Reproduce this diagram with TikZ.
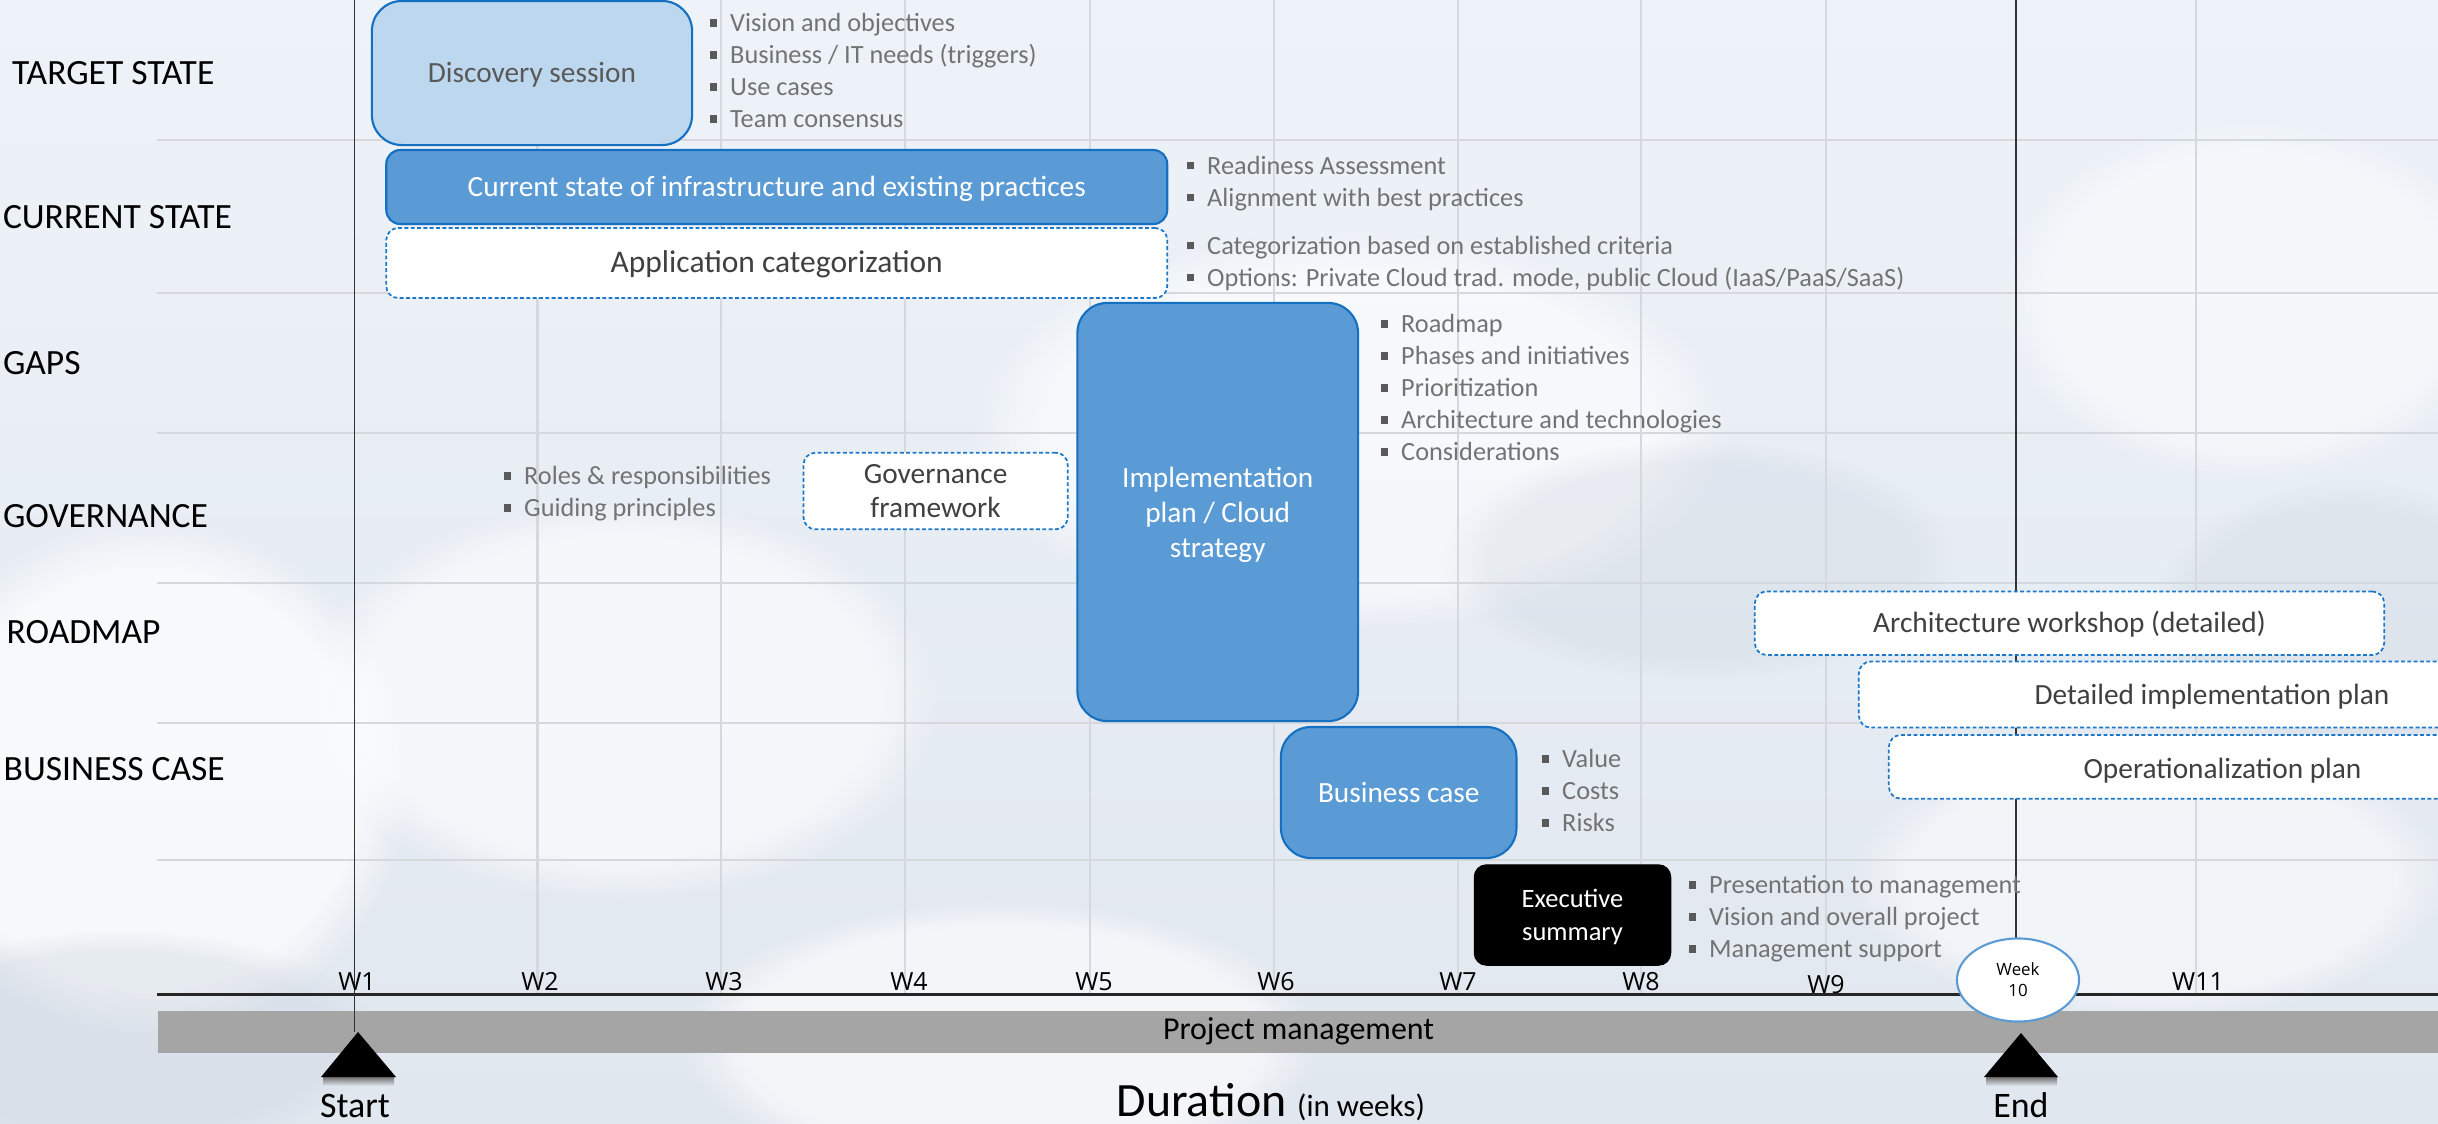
\documentclass[tikz,border=0pt]{standalone}
\usepackage{fontspec}
\setmainfont{Carlito}
\newfontfamily\osans{Open Sans}
\usetikzlibrary{fadings,shapes.geometric}
\definecolor{bgtop}{HTML}{EEF3F9}
\definecolor{bgbot}{HTML}{E1E7EF}
\definecolor{gridc}{HTML}{D5D8DD}
\definecolor{lightblue}{HTML}{BDD7EE}
\definecolor{midblue}{HTML}{5B9BD5}
\definecolor{edgeblue}{HTML}{1470C0}
\definecolor{dashblue}{HTML}{1C78C8}
\definecolor{txtdark}{HTML}{404040}
\definecolor{txtgray}{HTML}{595959}
\definecolor{bultxt}{HTML}{737373}
\definecolor{bulsq}{HTML}{595959}
\definecolor{barg}{HTML}{A5A5A5}
\definecolor{cloudgray}{HTML}{CBD3DE}
\newcommand\myfs[2]{\fontsize{#1}{#2}\selectfont}
\newcommand\bul{\makebox[0.78em][l]{\textcolor{bulsq}{\rule[0.18em]{0.29em}{0.29em}}}}
\begin{document}
\begin{tikzpicture}[x=0.01cm,y=-0.01cm,
  boxbase/.style={inner sep=0pt, align=center, font=\myfs{8.34}{10}},
  single/.style={text height=5.4pt, text depth=0pt},
  multi/.style={text depth=0pt},
  bluebox/.style={boxbase, draw=edgeblue, line width=0.6pt, fill=midblue, text=white},
  dashbox/.style={boxbase, draw=dashblue, line width=0.5pt, dash pattern=on 1.1pt off 0.7pt, fill=white, text=txtdark, rounded corners=0.12cm},
  bullets/.style={anchor=base west, inner sep=0pt, align=left, text=bultxt, font=\myfs{7.48}{9.1}},
  rowlabel/.style={anchor=base west, inner sep=0pt, font=\myfs{10.1}{12}},
  wlabel/.style={anchor=base, inner sep=0pt, font=\osans\myfs{7.1}{8}},
  gridline/.style={draw=gridc, line width=0.8pt},
  cloud/.style={path fading=circle with fuzzy edge 20 percent}
]
\useasboundingbox (0,0) rectangle (2438,1123);
\clip (0,0) rectangle (2438,1123);
% background sky
\shade[top color=bgtop, bottom color=bgbot] (0,0) rectangle (2438,1123);
\fill[white, opacity=0.7, cloud] (150,780) ellipse (260 and 260);
\fill[white, opacity=0.6, cloud] (620,700) ellipse (320 and 200);
\fill[white, opacity=0.6, cloud] (1350,430) ellipse (380 and 200);
\fill[white, opacity=0.6, cloud] (1000,1040) ellipse (320 and 140);
\fill[white, opacity=0.5, cloud] (2250,300) ellipse (250 and 180);
\fill[white, opacity=0.5, cloud] (2150,880) ellipse (300 and 140);
\fill[cloudgray, opacity=0.35, cloud] (120,1040) ellipse (260 and 110);
\fill[cloudgray, opacity=0.3, cloud] (1700,560) ellipse (260 and 120);
\fill[cloudgray, opacity=0.3, cloud] (2350,620) ellipse (200 and 140);
% grid
\foreach \gx in {537.5,721,905,1090,1274,1458,1641,1826,2196}
  \draw[gridline] (\gx,0) -- (\gx,994);
\foreach \gy in {140,293,433,583,723,860}
  \draw[gridline] (157,\gy) -- (2438,\gy);
% axis and bar
\draw[line width=0.6pt, black!85] (157,994.5) -- (2438,994.5);
\node[fill=barg, inner sep=0pt, minimum width=22.79cm, minimum height=0.42cm, font=\myfs{9.08}{11}] (pm) at (1298.5,1031.7) {Project management};
\draw[line width=0.45pt, black!80] (354.5,0) -- (354.5,1032);
\draw[line width=0.45pt, black!80] (2016,0) -- (2016,941);
% row labels
\node[rowlabel] (lbltarget) at (11.5,84) {TARGET STATE};
\node[rowlabel] (lblcurrent) at (2.3,228) {CURRENT STATE};
\node[rowlabel] (lblgaps) at (2.3,374) {GAPS};
\node[rowlabel] (lblgov) at (2.3,527) {GOVERNANCE};
\node[rowlabel] (lblroad) at (6,643) {ROADMAP};
\node[rowlabel] (lblbc) at (3,780) {BUSINESS CASE};
% boxes
\node[boxbase, single, draw=edgeblue, line width=0.6pt, fill=lightblue, text=txtgray, rounded corners=0.3cm, minimum width=3.2cm, minimum height=1.44cm] (disc) at (532,73) {Discovery session};
\node[bluebox, single, rounded corners=0.14cm, minimum width=7.805cm, minimum height=0.74cm] (cur) at (776.75,187) {Current state of infrastructure and existing practices};
\node[dashbox, single, font=\myfs{8.96}{11}, minimum width=7.805cm, minimum height=0.7cm] (app) at (776.75,263) {Application categorization};
\node[bluebox, multi, rounded corners=0.3cm, minimum width=2.805cm, minimum height=4.18cm, font=\myfs{8.34}{10}] (impl) at (1217.75,512) {Implementation\\plan / Cloud\\strategy};
\node[dashbox, font=\myfs{8.34}{9.5}, minimum width=2.64cm, minimum height=0.766cm] (gov) at (935.6,491) {Governance\\framework};
\node[bluebox, single, rounded corners=0.3cm, minimum width=2.354cm, minimum height=1.31cm] (bc) at (1398.7,792.5) {Business case};
\node[boxbase, multi, draw=black, fill=black, text=white, rounded corners=0.12cm, minimum width=1.96cm, minimum height=1.0cm, font=\myfs{7.54}{9.4}] (exec) at (1572.5,915) {Executive\\summary};
\node[dashbox, single, minimum width=6.29cm, minimum height=0.636cm] (arch) at (2069.5,623.2) {Architecture workshop (detailed)};
\node[dashbox, minimum width=6.21cm, minimum height=0.66cm] (det) at (2169.5,694.5) {};
\node[boxbase, single, text=txtdark] (dettext) at (2212,694.5) {Detailed implementation plan};
\node[dashbox, minimum width=5.91cm, minimum height=0.636cm] (ops) at (2184.5,766.8) {};
\node[boxbase, single, text=txtdark] (opstext) at (2222.5,769) {Operationalization plan};
% bullet lists (anchored at the baseline of their last line)
\node[bullets] (tgtlist) at (709,127.5) {\bul Vision and objectives\\\bul Business / IT needs (triggers)\\\bul Use cases\\\bul Team consensus};
\node[bullets] (curlist) at (1186,206) {\bul Readiness Assessment\\\bul Alignment with best practices};
\node[bullets] (applist) at (1186,286) {\bul Categorization based on established criteria\\\bul Options: Private Cloud trad. mode, public Cloud (IaaS/PaaS/SaaS)};
\node[bullets] (gapslist) at (1380,460.5) {\bul Roadmap\\\bul Phases and initiatives\\\bul Prioritization\\\bul Architecture and technologies\\\bul Considerations};
\node[bullets] (govlist) at (503,516.5) {\bul Roles \& responsibilities\\\bul Guiding principles};
\node[bullets] (bclist) at (1541,831.5) {\bul Value\\\bul Costs\\\bul Risks};
\node[bullets] (execlist) at (1688,957.5) {\bul Presentation to management\\\bul Vision and overall project\\\bul Management support};
% week labels
\node[wlabel] (w1) at (357,990) {W1};
\node[wlabel] (w2) at (540,990) {W2};
\node[wlabel] (w3) at (724,990) {W3};
\node[wlabel] (w4) at (909,990) {W4};
\node[wlabel] (w5) at (1094,990) {W5};
\node[wlabel] (w6) at (1276,990) {W6};
\node[wlabel] (w7) at (1458,990) {W7};
\node[wlabel] (w8) at (1641,990) {W8};
\node[wlabel] (w9) at (1826,993) {W9};
\node[wlabel] (w11) at (2198,990) {W11};
\node[ellipse, draw=midblue, fill=white, line width=0.6pt, inner sep=0pt, minimum width=1.22cm, minimum height=0.83cm, align=center, font=\osans\myfs{4.8}{6}] (wk10) at (2018,980) {Week\\10};
% start / end markers
\shade[top color=black!55, bottom color=bgbot] (323,1077) rectangle (394,1086);
\shade[top color=black!55, bottom color=bgbot] (1986,1077) rectangle (2057,1086);
\fill[black] (358,1032) -- (396,1077) -- (321,1077) -- cycle;
\fill[black] (2021,1033) -- (2058,1077) -- (1984,1077) -- cycle;
\node[anchor=base, inner sep=0pt, font=\myfs{10.2}{12}] (start) at (355,1117) {Start};
\node[anchor=base, inner sep=0pt, font=\myfs{10.2}{12}] (end) at (2021,1117) {End};
\node[anchor=base west, inner sep=0pt] (dur) at (1116,1116) {\myfs{13.6}{16}Duration\ \myfs{8.8}{10}(in weeks)};
\end{tikzpicture}
\end{document}
